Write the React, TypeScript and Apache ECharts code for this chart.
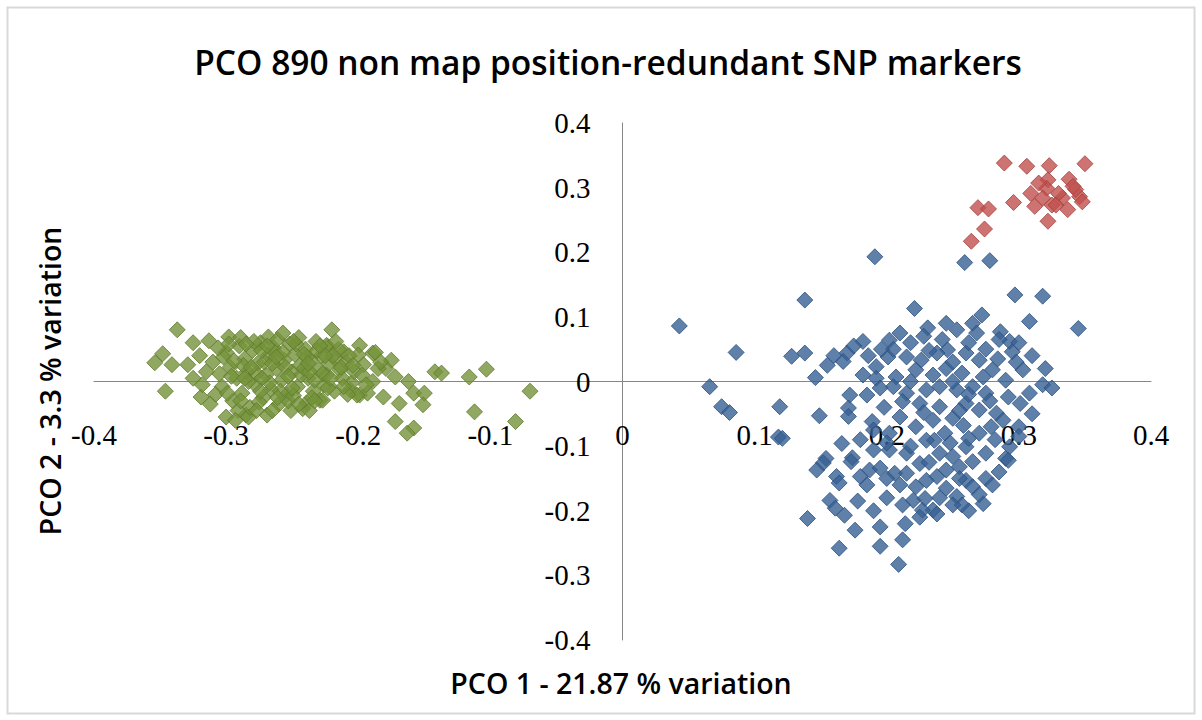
import React, { useEffect, useRef } from "react";
import * as echarts from "echarts";

const titleText = "PCO 890 non map position-redundant SNP markers";
const xAxisName = "PCO 1 - 21.87 % variation";
const yAxisName = "PCO 2 - 3.3 % variation";
const axisMin = -0.4;
const axisMax = 0.4;
const axisStep = 0.1;

const greenPoints: [number, number][] = [
  [-0.337, 0.080], [-0.348, 0.043], [-0.354, 0.029], [-0.341, 0.026], [-0.346, -0.015], [-0.325, 0.060],
  [-0.313, 0.063], [-0.298, 0.069], [-0.320, 0.040], [-0.329, 0.026], [-0.325, 0.005], [-0.319, -0.024],
  [-0.300, -0.055], [-0.285, -0.052], [-0.283, -0.055], [-0.269, -0.052], [-0.268, 0.069], [-0.220, 0.080],
  [-0.223, 0.054], [-0.239, -0.033], [-0.229, -0.029], [-0.206, -0.013], [-0.199, -0.021], [-0.189, 0.044],
  [-0.187, 0.045], [-0.175, 0.033], [-0.179, 0.020], [-0.172, 0.007], [-0.162, 0.000], [-0.158, -0.018],
  [-0.150, -0.018], [-0.151, -0.036], [-0.169, -0.034], [-0.181, -0.024], [-0.193, -0.018], [-0.201, -0.021],
  [-0.189, 0.000], [-0.172, -0.062], [-0.158, -0.072], [-0.163, -0.080], [-0.142, 0.015], [-0.137, 0.013],
  [-0.116, 0.007], [-0.103, 0.019], [-0.070, -0.015], [-0.112, -0.047], [-0.081, -0.062], [-0.199, 0.056],
  [-0.211, 0.046], [-0.224, 0.056], [-0.200, 0.041], [-0.196, 0.026], [-0.218, 0.036], [-0.214, 0.018],
  [-0.224, 0.010], [-0.227, -0.029],
  [-0.310, 0.030], [-0.305, 0.012], [-0.303, -0.008], [-0.300, 0.045], [-0.297, 0.022], [-0.295, -0.030],
  [-0.292, 0.005], [-0.290, 0.055], [-0.288, -0.018], [-0.286, 0.035], [-0.284, 0.015], [-0.282, -0.040],
  [-0.280, 0.048], [-0.278, -0.005], [-0.276, 0.028], [-0.274, 0.060], [-0.272, -0.025], [-0.270, 0.010],
  [-0.268, 0.040], [-0.266, -0.012], [-0.264, 0.052], [-0.262, 0.020], [-0.260, -0.035], [-0.258, 0.002],
  [-0.256, 0.033], [-0.254, -0.020], [-0.252, 0.058], [-0.250, 0.015], [-0.248, 0.042], [-0.246, -0.008],
  [-0.244, 0.025], [-0.242, -0.042], [-0.240, 0.050], [-0.238, 0.005], [-0.236, 0.032], [-0.234, -0.015],
  [-0.232, 0.062], [-0.230, 0.018], [-0.228, 0.040], [-0.226, -0.005], [-0.222, 0.028], [-0.218, -0.015],
  [-0.215, 0.050], [-0.212, 0.005], [-0.209, 0.030], [-0.205, -0.002],
  [-0.308, -0.020], [-0.302, 0.038], [-0.296, 0.008], [-0.291, -0.045], [-0.287, 0.025], [-0.283, 0.000],
  [-0.279, 0.062], [-0.275, -0.032], [-0.271, 0.030], [-0.267, -0.002], [-0.263, 0.045], [-0.259, -0.015],
  [-0.255, 0.022], [-0.251, -0.045], [-0.247, 0.058], [-0.243, 0.010], [-0.239, 0.038], [-0.235, -0.025],
  [-0.231, 0.048], [-0.227, 0.012], [-0.223, -0.010], [-0.219, 0.040], [-0.213, 0.022], [-0.208, -0.020],
  [-0.203, 0.015], [-0.315, 0.015], [-0.318, -0.005], [-0.293, -0.060], [-0.277, 0.012], [-0.261, 0.065],
  [-0.253, -0.030], [-0.245, 0.068], [-0.237, -0.045], [-0.233, 0.002], [-0.265, -0.045], [-0.289, 0.068],
  [-0.257, 0.075], [-0.241, 0.020], [-0.249, -0.022], [-0.273, 0.048],
  [-0.312, -0.035], [-0.306, 0.052], [-0.299, -0.018], [-0.294, 0.032], [-0.289, -0.030], [-0.285, 0.058],
  [-0.281, 0.022], [-0.277, -0.045], [-0.273, 0.005], [-0.269, 0.055], [-0.265, 0.028], [-0.261, -0.025],
  [-0.257, 0.045], [-0.253, 0.008], [-0.249, 0.062], [-0.245, -0.035], [-0.241, 0.042], [-0.237, 0.015],
  [-0.233, -0.030], [-0.229, 0.055], [-0.225, 0.040], [-0.221, 0.005], [-0.217, 0.062], [-0.211, -0.008],
  [-0.207, 0.040], [-0.204, 0.025], [-0.197, 0.010], [-0.194, -0.005], [-0.185, 0.020], [-0.183, 0.030],
  [-0.298, 0.058], [-0.286, 0.005], [-0.274, -0.015], [-0.262, 0.038], [-0.250, -0.010], [-0.238, 0.028],
];

const bluePoints: [number, number][] = [
  [0.043, 0.086], [0.086, 0.045], [0.138, 0.126], [0.128, 0.039], [0.138, 0.044], [0.146, 0.006],
  [0.066, -0.008], [0.075, -0.039], [0.081, -0.048], [0.119, -0.039], [0.118, -0.086], [0.149, -0.053],
  [0.170, 0.044], [0.167, 0.031], [0.182, 0.062], [0.172, -0.021], [0.185, -0.021], [0.171, -0.041],
  [0.171, -0.054], [0.166, -0.096], [0.189, -0.062], [0.154, -0.119], [0.174, -0.118],
  [0.221, 0.113], [0.297, 0.134], [0.318, 0.132], [0.308, 0.093], [0.345, 0.082], [0.272, 0.103],
  [0.202, 0.064], [0.210, 0.075], [0.231, 0.083], [0.253, 0.080], [0.265, 0.090], [0.286, 0.077],
  [0.293, 0.062], [0.295, 0.046], [0.303, 0.018], [0.318, -0.005], [0.308, -0.018], [0.292, -0.024],
  [0.290, 0.002], [0.280, 0.018], [0.270, 0.033], [0.260, 0.044], [0.246, 0.049], [0.238, 0.044],
  [0.226, 0.033], [0.215, 0.038], [0.201, 0.038], [0.192, 0.023], [0.182, 0.010], [0.192, 0.005],
  [0.207, 0.007], [0.222, 0.018], [0.235, 0.010], [0.245, 0.020], [0.257, 0.013], [0.273, 0.007],
  [0.215, -0.018], [0.230, -0.013], [0.240, -0.008], [0.253, -0.013], [0.265, -0.008], [0.275, -0.018],
  [0.212, -0.031], [0.225, -0.034], [0.240, -0.039], [0.260, -0.034], [0.270, -0.044], [0.283, -0.049],
  [0.235, -0.060], [0.250, -0.057],
  [0.121, -0.088], [0.152, -0.126], [0.147, -0.137], [0.173, -0.124], [0.162, -0.147], [0.164, -0.157],
  [0.180, -0.147], [0.187, -0.137], [0.195, -0.134], [0.206, -0.142], [0.215, -0.111], [0.202, -0.106],
  [0.215, -0.142], [0.225, -0.127], [0.230, -0.153], [0.222, -0.163], [0.238, -0.147], [0.245, -0.137],
  [0.255, -0.132], [0.250, -0.116], [0.260, -0.153], [0.265, -0.163], [0.253, -0.178], [0.257, -0.191],
  [0.250, -0.191], [0.273, -0.189], [0.235, -0.199], [0.227, -0.199], [0.220, -0.184], [0.212, -0.191],
  [0.229, -0.181], [0.157, -0.184], [0.161, -0.196], [0.168, -0.207], [0.140, -0.212], [0.176, -0.230],
  [0.195, -0.225], [0.214, -0.220], [0.212, -0.245], [0.195, -0.255], [0.164, -0.258], [0.209, -0.283],
  [0.236, -0.091], [0.260, -0.101], [0.275, -0.111], [0.290, -0.119], [0.293, -0.101], [0.270, -0.080],
  [0.265, -0.124], [0.240, -0.111], [0.230, -0.091], [0.202, -0.080], [0.190, -0.106], [0.292, -0.122],
  [0.301, -0.034], [0.191, 0.193], [0.259, 0.184], [0.278, 0.187],
  [0.205, 0.050], [0.218, 0.060], [0.228, 0.070], [0.242, 0.065], [0.250, 0.030], [0.262, 0.060],
  [0.275, 0.050], [0.284, 0.035], [0.298, 0.030], [0.310, 0.040], [0.320, 0.020], [0.300, 0.060],
  [0.285, 0.065], [0.250, 0.000], [0.262, -0.020], [0.278, -0.030], [0.288, -0.060], [0.300, -0.070],
  [0.279, -0.070], [0.258, -0.068], [0.244, -0.080], [0.222, -0.070], [0.210, -0.055], [0.198, -0.040],
  [0.190, -0.075], [0.180, -0.090], [0.200, -0.095], [0.218, -0.100], [0.248, -0.095], [0.262, -0.088],
  [0.282, -0.090], [0.285, -0.140], [0.275, -0.150], [0.270, -0.175], [0.262, -0.200], [0.245, -0.165],
  [0.240, -0.180], [0.232, -0.125], [0.210, -0.160], [0.200, -0.180], [0.185, -0.160], [0.178, -0.185],
  [0.190, -0.200], [0.200, -0.150], [0.225, -0.210], [0.238, -0.205], [0.255, -0.150], [0.280, -0.160],
  [0.300, -0.085], [0.310, -0.050], [0.325, -0.010], [0.196, 0.050], [0.175, 0.055], [0.160, 0.040],
  [0.155, 0.025], [0.186, 0.040], [0.232, 0.048], [0.268, 0.075], [0.245, 0.090], [0.255, -0.045],
  [0.228, -0.048], [0.218, 0.000], [0.205, -0.008], [0.195, -0.010],
];

const redPoints: [number, number][] = [
  [0.289, 0.338], [0.306, 0.333], [0.323, 0.334], [0.350, 0.337], [0.322, 0.312], [0.321, 0.299],
  [0.338, 0.313], [0.309, 0.291], [0.318, 0.284], [0.333, 0.284], [0.346, 0.286], [0.343, 0.297],
  [0.312, 0.271], [0.325, 0.273], [0.337, 0.266], [0.322, 0.248], [0.296, 0.277], [0.269, 0.269],
  [0.277, 0.267], [0.274, 0.236], [0.264, 0.217], [0.330, 0.291], [0.341, 0.302], [0.328, 0.273],
  [0.348, 0.278], [0.315, 0.307],
];

const fmt = (v: number) => String(Math.round(v * 10) / 10);

// grid geometry (pixels)
const gridLeft = 94;
const gridRight = 51;
const gridTop = 123;
const gridBottom = 80;

export default function App() {
  const ref = useRef<HTMLDivElement>(null);
  useEffect(() => {
    if (!ref.current) return;
    const chart = echarts.init(ref.current, null, { renderer: "svg" });
    const plotW = 1202 - gridLeft - gridRight;
    const plotH = 720 - gridTop - gridBottom;
    // move each axis (line + labels) onto the other axis' zero
    const xOffset = -plotH * (0 - axisMin) / (axisMax - axisMin);
    const yOffset = -plotW * (0 - axisMin) / (axisMax - axisMin);
    const axisCommon = {
      type: "value" as const,
      min: axisMin,
      max: axisMax,
      interval: axisStep,
      axisLine: { onZero: false, lineStyle: { color: "#868686", width: 1 } },
      axisTick: { show: false },
      splitLine: { show: false },
    };
    const labelFont = { fontFamily: "Liberation Serif", fontSize: 29, color: "#000" };
    const seriesOf = (name: string, data: [number, number][], fill: string, border: string) => ({
      name,
      type: "scatter" as const,
      data,
      symbol: "diamond",
      symbolSize: 16,
      itemStyle: { color: fill, borderColor: border, borderWidth: 1 },
    });
    chart.setOption({
      animation: false,
      backgroundColor: "#ffffff",
      grid: { left: gridLeft, right: gridRight, top: gridTop, bottom: gridBottom, containLabel: false },
      xAxis: {
        ...axisCommon,
        position: "bottom",
        offset: xOffset,
        axisLabel: { ...labelFont, margin: 39, formatter: fmt, hideOverlap: false },
      },
      yAxis: {
        ...axisCommon,
        position: "left",
        offset: yOffset,
        axisLabel: { ...labelFont, margin: 32, formatter: fmt, hideOverlap: false },
      },
      series: [
        seriesOf("Group 1", bluePoints, "#376093", "#2b5080"),
        seriesOf("Group 2", redPoints, "#c0504d", "#a53f3c"),
        seriesOf("Group 3", greenPoints, "#74923a", "#5f7b2c"),
      ],
      graphic: [
        {
          type: "rect",
          shape: { x: 7.5, y: 7.5, width: 1187, height: 706 },
          style: { fill: "none", stroke: "#d9d9d9", lineWidth: 2 },
          silent: true,
        },
        {
          type: "text",
          x: 608,
          y: 62,
          style: {
            text: titleText,
            fontFamily: "Open Sans",
            fontWeight: 600,
            fontSize: 33.5,
            fill: "#000",
            textAlign: "center",
            textVerticalAlign: "middle",
          },
        },
        {
          type: "text",
          x: 621,
          y: 683,
          style: {
            text: xAxisName,
            fontFamily: "Open Sans",
            fontWeight: 600,
            fontSize: 28.5,
            fill: "#000",
            textAlign: "center",
            textVerticalAlign: "middle",
          },
        },
        {
          type: "text",
          x: 50,
          y: 381,
          rotation: Math.PI / 2,
          style: {
            text: yAxisName,
            fontFamily: "Open Sans",
            fontWeight: 600,
            fontSize: 28.5,
            fill: "#000",
            textAlign: "center",
            textVerticalAlign: "middle",
          },
        },
      ],
    });
    return () => chart.dispose();
  }, []);
  return (
    <div
      ref={ref}
      style={{ position: "absolute", left: 0, top: 0, width: 1202, height: 720 }}
    />
  );
}
